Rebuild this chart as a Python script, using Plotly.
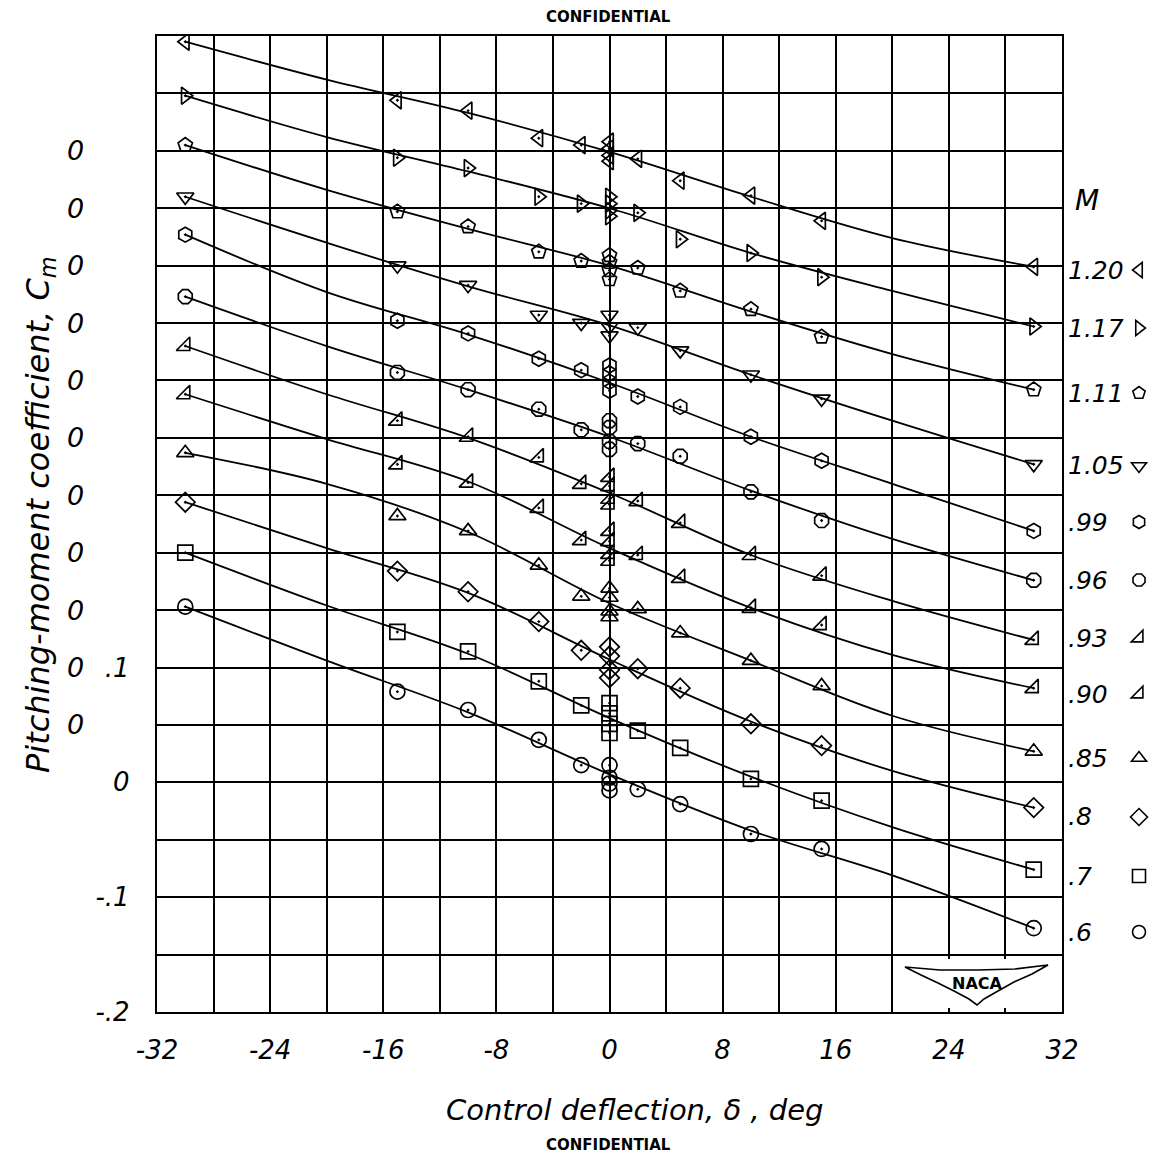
import plotly.graph_objects as go

# ---------------- data ----------------
MACH = [".6", ".7", ".8", ".85", ".90", ".93", ".96", ".99", "1.05", "1.11", "1.17", "1.20"]
ZERO_STEP = 0.05  # each curve is shifted up by this on the Cm scale

DELTA = [-30, -15, -10, -5, -2, 2, 5, 10, 15, 30]

cm_060 = [0.153, 0.079, 0.063, 0.037, 0.015, -0.006, -0.019, -0.045, -0.058, -0.127]
cm_070 = [0.150, 0.081, 0.064, 0.038, 0.017, -0.005, -0.020, -0.047, -0.066, -0.126]
cm_080 = [0.144, 0.084, 0.066, 0.040, 0.015, -0.001, -0.018, -0.049, -0.068, -0.122]
cm_085 = [0.137, 0.082, 0.069, 0.039, 0.012, 0.001, -0.020, -0.044, -0.066, -0.123]
cm_090 = [0.138, 0.077, 0.061, 0.039, 0.011, -0.002, -0.022, -0.048, -0.063, -0.118]
cm_093 = [0.130, 0.065, 0.051, 0.033, 0.010, -0.005, -0.024, -0.052, -0.070, -0.126]
cm_096 = [0.123, 0.057, 0.042, 0.025, 0.007, -0.005, -0.016, -0.047, -0.072, -0.124]
cm_099 = [0.127, 0.052, 0.041, 0.019, 0.009, -0.014, -0.023, -0.049, -0.070, -0.131]
cm_105 = [0.110, 0.050, 0.033, 0.007, 0.000, -0.004, -0.024, -0.045, -0.066, -0.123]
cm_111 = [0.105, 0.047, 0.034, 0.012, 0.004, -0.002, -0.022, -0.038, -0.062, -0.108]
cm_117 = [0.098, 0.044, 0.035, 0.010, 0.004, -0.004, -0.027, -0.039, -0.060, -0.103]
cm_120 = [0.095, 0.044, 0.035, 0.011, 0.005, -0.007, -0.026, -0.039, -0.061, -0.101]

# repeat points at zero deflection
cm0_060 = [0.015, 0.004, -0.001, -0.007]
cm0_070 = [0.019, 0.010, 0.001, -0.007]
cm0_080 = [0.018, 0.010, -0.002, -0.009]
cm0_085 = [0.019, 0.011, -0.001, -0.006]
cm0_090 = [0.019, 0.010, -0.001, -0.007]
cm0_093 = [0.016, 0.008, -0.003, -0.008]
cm0_096 = [0.015, 0.009, -0.003, -0.010]
cm0_099 = [0.013, 0.006, -0.001, -0.009]
cm0_105 = [0.007, -0.003, -0.011]
cm0_111 = [0.009, 0.003, -0.004, -0.012]
cm0_117 = [0.010, 0.004, -0.002, -0.007]
cm0_120 = [0.008, 0.002, -0.004, -0.009]

# faired curves
FAIR_DELTA = [-30, -20, -10, 0, 10, 20, 30]
fair_060 = [0.153, 0.106, 0.061, 0.007, -0.042, -0.081, -0.127]
fair_070 = [0.150, 0.104, 0.062, 0.006, -0.045, -0.089, -0.126]
fair_080 = [0.144, 0.104, 0.065, 0.007, -0.047, -0.090, -0.122]
fair_085 = [0.137, 0.110, 0.068, 0.006, -0.044, -0.092, -0.123]
fair_090 = [0.138, 0.099, 0.062, 0.004, -0.048, -0.089, -0.118]
fair_093 = [0.130, 0.088, 0.050, 0.002, -0.052, -0.092, -0.126]
fair_096 = [0.123, 0.080, 0.042, 0.001, -0.046, -0.088, -0.124]
fair_099 = [0.127, 0.077, 0.040, -0.002, -0.049, -0.090, -0.131]
fair_105 = [0.110, 0.070, 0.032, -0.002, -0.045, -0.085, -0.123]
fair_111 = [0.105, 0.066, 0.032, 0.000, -0.040, -0.077, -0.108]
fair_117 = [0.098, 0.062, 0.032, 0.000, -0.039, -0.072, -0.103]
fair_120 = [0.095, 0.062, 0.033, -0.001, -0.040, -0.076, -0.101]

CM = [cm_060, cm_070, cm_080, cm_085, cm_090, cm_093, cm_096, cm_099, cm_105, cm_111, cm_117, cm_120]
CM0 = [cm0_060, cm0_070, cm0_080, cm0_085, cm0_090, cm0_093, cm0_096, cm0_099, cm0_105, cm0_111, cm0_117, cm0_120]
FAIR = [fair_060, fair_070, fair_080, fair_085, fair_090, fair_093, fair_096, fair_099, fair_105, fair_111, fair_117, fair_120]

SYMBOLS = ["circle-open-dot", "square-open-dot", "diamond-open-dot", "triangle-up-open-dot",
           "triangle-se-open-dot", "triangle-se-open-dot", "octagon-open-dot", "hexagon-open-dot",
           "triangle-down-open-dot", "pentagon-open-dot", "triangle-right-open-dot", "triangle-left-open-dot"]

X_TICKS = list(range(-32, 33, 4))
Y_TICKS = [round(-0.2 + 0.05 * k, 2) for k in range(18)]
Y_LABELS = {-0.2: "-.2", -0.1: "-.1", 0.0: "0", 0.1: ".1"}

# ---------------- figure / layout ----------------
W, H = 1161, 1163
ML, MR, MT, MB = 157, 99, 36, 151
FONT = "DejaVu Sans"
Y0, Y1 = -0.2, 0.65
# vertical pixel position of each key entry (.6 ... 1.20), as placed in the reference
KEY_PY = [932, 876, 817, 758, 694, 638, 580, 522, 466, 393, 328, 270]


def paper(px, py):
    return (px - ML) / (W - ML - MR), (H - MB - py) / (H - MT - MB)


fig = go.Figure()

for i, m in enumerate(MACH):
    off = ZERO_STEP * i
    fig.add_trace(go.Scatter(
        x=FAIR_DELTA, y=[v + off for v in FAIR[i]], mode="lines",
        line=dict(color="black", width=1.8, shape="spline", smoothing=1.0),
        hoverinfo="skip", showlegend=False))
    xs = DELTA + [0] * len(CM0[i])
    ys = [v + off for v in CM[i]] + [v + off for v in CM0[i]]
    fig.add_trace(go.Scatter(
        x=xs, y=ys, mode="markers", name="M = " + m,
        marker=dict(symbol=SYMBOLS[i], size=15, color="black",
                    line=dict(color="black", width=1.7)),
        showlegend=False))

annotations = []
legends = {}
lx, _ = paper(1119, 0)
tx_lab, _ = paper(1066, 0)
for i, m in enumerate(MACH):
    lname = "legend" if i == 0 else f"legend{i + 1}"
    _, ky = paper(0, KEY_PY[i])
    # key symbol (one single-entry legend per Mach number)
    fig.add_trace(go.Scatter(
        x=[None], y=[None], mode="markers", name=" ", legend=lname, showlegend=True,
        marker=dict(symbol=SYMBOLS[i].replace("-dot", ""), size=13, color="black",
                    line=dict(color="black", width=1.6))))
    legends[lname] = dict(x=lx, y=ky, xanchor="left", yanchor="middle",
                          bgcolor="rgba(0,0,0,0)", borderwidth=0, itemwidth=30,
                          font=dict(size=8, color="black"), tracegroupgap=0)
    annotations.append(dict(x=tx_lab, y=ky, xref="paper", yref="paper", text=m, showarrow=False,
                            xanchor="left", yanchor="middle",
                            font=dict(family=FONT, size=25, color="black", style="italic")))
    if i > 0:
        zx, _ = paper(75, 0)
        annotations.append(dict(x=zx, y=ZERO_STEP * i, xref="paper", yref="y", text="0",
                                showarrow=False, xanchor="center", yanchor="middle",
                                font=dict(family=FONT, size=27, color="black", style="italic")))

mx, my = paper(1087, 200)
annotations.append(dict(x=mx, y=my, xref="paper", yref="paper", text="M", showarrow=False,
                        xanchor="center", yanchor="middle",
                        font=dict(family=FONT, size=28, color="black", style="italic")))

tx, ty = paper(40, 515)
annotations.append(dict(x=tx, y=ty, xref="paper", yref="paper",
                        text="Pitching-moment coefficient, C<sub>m</sub>", textangle=-90,
                        showarrow=False, xanchor="center", yanchor="middle",
                        font=dict(family=FONT, size=32, color="black", style="italic")))
bx, by = paper(635, 1110)
annotations.append(dict(x=bx, y=by, xref="paper", yref="paper",
                        text="Control deflection, δ , deg", showarrow=False,
                        xanchor="center", yanchor="middle",
                        font=dict(family=FONT, size=29, color="black", style="italic")))
for cy in (17, 1145):
    cx, cyp = paper(608, cy)
    annotations.append(dict(x=cx, y=cyp, xref="paper", yref="paper", text="CONFIDENTIAL",
                            showarrow=False, xanchor="center", yanchor="middle",
                            font=dict(family=FONT, size=15, color="black", weight="bold")))

# NACA emblem (decoration)
shapes = []
r0 = paper(898, 959)
r1 = paper(1058, 1008)
shapes.append(dict(type="rect", xref="paper", yref="paper", x0=r0[0], y0=r1[1], x1=r1[0], y1=r0[1],
                   fillcolor="white", line=dict(width=0), layer="above"))
wing = [(905, 967), (940, 970), (977, 970), (1015, 969), (1048, 965), (1032, 974), (1014, 982),
        (998, 991), (984, 999), (977, 1005), (969, 999), (954, 991), (938, 983), (921, 975)]
pts = [paper(a, b) for a, b in wing]
path = "M " + " L ".join(f"{p[0]:.5f},{p[1]:.5f}" for p in pts) + " Z"
shapes.append(dict(type="path", xref="paper", yref="paper", path=path, fillcolor="white",
                   line=dict(color="black", width=1.6), layer="above"))
nx, ny = paper(977, 983)
annotations.append(dict(x=nx, y=ny, xref="paper", yref="paper", text="NACA", showarrow=False,
                        xanchor="center", yanchor="middle",
                        font=dict(family=FONT, size=16, color="black", weight="bold")))

fig.update_layout(
    width=W, height=H, paper_bgcolor="white", plot_bgcolor="white",
    margin=dict(l=ML, r=MR, t=MT, b=MB, autoexpand=False),
    annotations=annotations, shapes=shapes, showlegend=True,
    xaxis=dict(range=[-32, 32], tickvals=X_TICKS,
               ticktext=[str(v) if v % 8 == 0 else "" for v in X_TICKS],
               showgrid=True, gridcolor="black", gridwidth=2, zeroline=False,
               showline=True, linecolor="black", linewidth=2.4, mirror=True,
               ticks="", ticklabelstandoff=14,
               tickfont=dict(family=FONT, size=26, color="black", style="italic")),
    yaxis=dict(range=[Y0, Y1], tickvals=Y_TICKS,
               ticktext=[Y_LABELS.get(v, "") for v in Y_TICKS],
               showgrid=True, gridcolor="black", gridwidth=2, zeroline=False,
               showline=True, linecolor="black", linewidth=2.4, mirror=True,
               ticks="", ticklabelstandoff=20,
               tickfont=dict(family=FONT, size=26, color="black", style="italic")),
    **legends,
)

fig.write_html("out.html", config={"displayModeBar": False},
               post_script="document.body.style.margin='0';document.body.style.padding='0';")
